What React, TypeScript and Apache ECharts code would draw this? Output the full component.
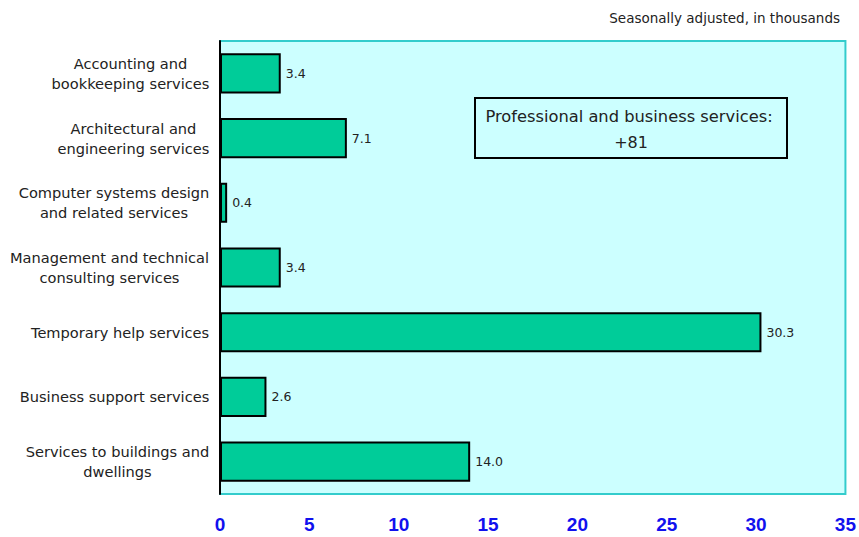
import React, { useEffect, useRef } from "react";
import * as echarts from "echarts";

const categories: string[] = [
  "Accounting and\nbookkeeping services",
  "Architectural and\nengineering services",
  "Computer systems design\nand related services",
  "Management and technical\nconsulting services",
  "Temporary help services",
  "Business support services",
  "Services to buildings and\ndwellings",
];
const values: number[] = [3.4, 7.1, 0.4, 3.4, 30.3, 2.6, 14.0];
const xMin = 0;
const xMax = 35;
const xInterval = 5;
const subtitle = "Seasonally adjusted, in thousands";
const boxLines: string[] = ["Professional and business services:", "+81"];

const CAT_FONT = '"DejaVu Sans", Verdana, sans-serif';
const CAT_SIZE = 14.6;

export default function App() {
  const ref = useRef<HTMLDivElement>(null);
  useEffect(() => {
    if (!ref.current) return;
    const chart = echarts.init(ref.current, undefined, { renderer: "svg" });

    const canvas = document.createElement("canvas");
    const ctx = canvas.getContext("2d")!;
    ctx.font = `${CAT_SIZE}px ${CAT_FONT}`;
    const rich: Record<string, any> = {};
    categories.forEach((c, i) => {
      const w = Math.max(...c.split("\n").map((l) => ctx.measureText(l).width));
      rich["c" + i] = {
        width: Math.ceil(w) + 1,
        align: "center",
        fontSize: CAT_SIZE,
        fontFamily: CAT_FONT,
        color: "#222",
        lineHeight: 20,
      };
    });

    chart.setOption({
      animation: false,
      backgroundColor: "#ffffff",
      grid: {
        left: 220,
        right: 13,
        top: 41,
        bottom: 43,
        show: true,
        backgroundColor: "#ccffff",
        borderColor: "#33cccc",
        borderWidth: 2,
        containLabel: false,
      },
      title: {
        text: subtitle,
        right: 14,
        top: 6,
        textStyle: {
          fontSize: 13.5,
          fontWeight: "normal",
          fontFamily: CAT_FONT,
          color: "#222",
        },
      },
      xAxis: {
        type: "value",
        min: xMin,
        max: xMax,
        interval: xInterval,
        axisLine: { show: false },
        axisTick: { show: false },
        splitLine: { show: false },
        axisLabel: {
          margin: 21,
          fontSize: 19,
          fontWeight: "bold",
          fontFamily: '"Liberation Sans", Arial, sans-serif',
          color: "#1111ee",
        },
      },
      yAxis: {
        type: "category",
        inverse: true,
        data: categories,
        axisLine: { show: true, lineStyle: { color: "#000", width: 2 } },
        axisTick: { show: false },
        splitLine: { show: false },
        axisLabel: {
          margin: 10,
          align: "right",
          formatter: (v: string, i: number) =>
            v
              .split("\n")
              .map((l) => `{c${i}|${l}}`)
              .join("\n"),
          rich,
        },
      },
      series: [
        {
          type: "bar",
          data: values,
          barCategoryGap: "38%",
          itemStyle: { color: "#00cc99", borderColor: "#000", borderWidth: 2 },
          label: {
            show: true,
            position: "right",
            distance: 5,
            formatter: (p: any) => Number(p.value).toFixed(1),
            fontSize: 12.5,
            fontFamily: CAT_FONT,
            color: "#222",
          },
        },
      ],
      graphic: [
        {
          type: "group",
          left: 474,
          top: 97,
          children: [
            {
              type: "rect",
              shape: { x: 0, y: 0, width: 312, height: 60 },
              style: { fill: "transparent", stroke: "#000", lineWidth: 2 },
            },
            {
              type: "text",
              x: 154,
              y: 18,
              style: {
                text: boxLines[0],
                fontSize: 16.3,
                fontFamily: CAT_FONT,
                fill: "#222",
                align: "center",
                verticalAlign: "middle",
              },
            },
            {
              type: "text",
              x: 156,
              y: 44,
              style: {
                text: boxLines[1],
                fontSize: 16,
                fontFamily: CAT_FONT,
                fill: "#222",
                align: "center",
                verticalAlign: "middle",
              },
            },
          ],
        },
      ],
    });
    return () => chart.dispose();
  }, []);
  return <div ref={ref} style={{ width: 859, height: 537, position: "absolute", left: 0, top: 0 }} />;
}
